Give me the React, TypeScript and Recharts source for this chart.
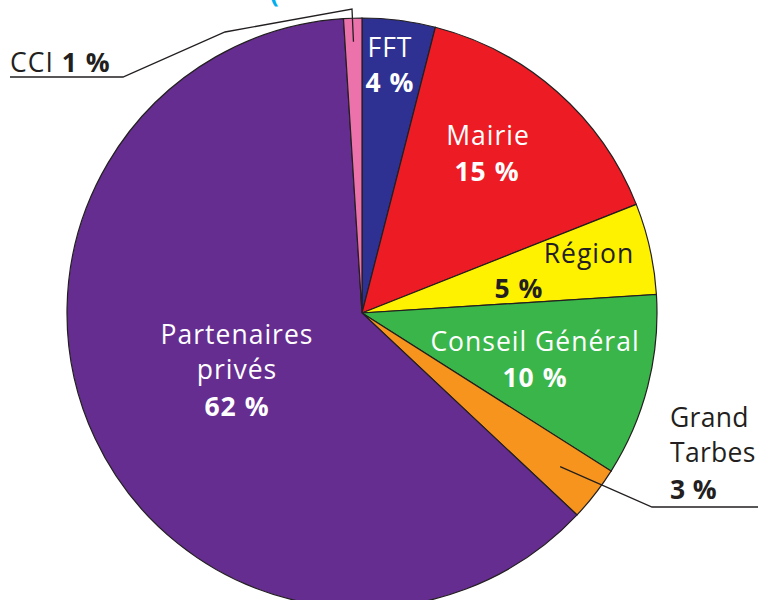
import { PieChart, Pie, Cell } from 'recharts'

const names = ['FFT', 'Mairie', 'Région', 'Conseil Général', 'Grand Tarbes', 'Partenaires privés', 'CCI']
const values = [4, 15, 5, 10, 3, 62, 1]
const colors = ['#2e3192', '#ed1c24', '#fff200', '#39b54a', '#f7941d', '#662d91', '#ec72ac']

const data = names.map((n, i) => ({ name: n, value: values[i] }))

const FONT = '"Open Sans", sans-serif'
const DARK = '#231f20'
const FS = 26.5
const LS = 1

// label text placement, relative to pie centre
const layout: any = {
  FFT: { anchor: 'middle', fill: '#fff', lines: [['FFT', false, 28, -266], ['4 %', true, 28, -231]] },
  Mairie: { anchor: 'middle', fill: '#fff', lines: [['Mairie', false, 126, -178], ['15 %', true, 125, -142]] },
  'Région': { anchor: 'middle', fill: DARK, lines: [['Région', false, 227, -60], ['5 %', true, 157, -25]] },
  'Conseil Général': { anchor: 'middle', fill: '#fff', lines: [['Conseil Général', false, 173, 28], ['10 %', true, 173, 64]] },
  'Grand Tarbes': {
    anchor: 'start', fill: DARK, ls: 0.3,
    lines: [['Grand', false, 308, 104], ['Tarbes', false, 308, 139], ['3 %', true, 308, 176]],
    leader: { r: 0.85, pts: [[290, 194], [396, 194]] }
  },
  'Partenaires privés': {
    anchor: 'middle', fill: '#fff',
    lines: [['Partenaires', false, -125, 21], ['privés', false, -125, 56], ['62 %', true, -125, 93]]
  },
  CCI: {
    anchor: 'start', fill: DARK, lines: [],
    leader: { r: 0.92, pts: [[-10, -304], [-137, -281], [-239, -236], [-352, -236]] }
  }
}

const RAD = Math.PI / 180

function renderLabel(props: any) {
  const { cx, cy, midAngle, outerRadius, name } = props
  const l = layout[name]
  if (!l) return null
  let leader = null
  if (l.leader) {
    const sx = cx + outerRadius * l.leader.r * Math.cos(-midAngle * RAD)
    const sy = cy + outerRadius * l.leader.r * Math.sin(-midAngle * RAD)
    const pts = [[sx, sy], ...l.leader.pts.map((p: number[]) => [cx + p[0], cy + p[1]])]
    leader = (
      <polyline
        points={pts.map((p) => p.join(',')).join(' ')}
        fill="none"
        stroke={DARK}
        strokeWidth={1.3}
      />
    )
  }
  return (
    <g key={name}>
      {leader}
      {l.lines.map((ln: any, i: number) => (
        <text
          key={i}
          x={cx + ln[2]}
          y={cy + ln[3]}
          textAnchor={l.anchor}
          dominantBaseline="central"
          fill={l.fill}
          fontFamily={FONT}
          fontSize={FS}
          letterSpacing={l.ls ?? LS}
          fontWeight={ln[1] ? 700 : 400}
        >
          {ln[0]}
        </text>
      ))}
      {name === 'CCI' && (
        <text
          x={cx - 352}
          y={cy - 251}
          dominantBaseline="central"
          fill={DARK}
          fontFamily={FONT}
          fontSize={FS}
          letterSpacing={LS}
        >
          CCI <tspan fontWeight={700}>1 %</tspan>
        </text>
      )}
    </g>
  )
}

export default function App() {
  return (
    <div style={{ position: 'absolute', left: 0, top: 0, width: 758, height: 600, background: '#fff' }}>
      <PieChart width={758} height={600} margin={{ top: 0, right: 0, bottom: 0, left: 0 }}>
        <text x={270} y={2} fill="#00aeef" fontFamily={FONT} fontSize={26} fontWeight={700}>
          (
        </text>
        <Pie
          data={data}
          dataKey="value"
          nameKey="name"
          cx={362}
          cy={313}
          outerRadius={295}
          startAngle={90}
          endAngle={-270}
          stroke={DARK}
          strokeWidth={1.2}
          label={renderLabel}
          labelLine={false}
          isAnimationActive={false}
        >
          {data.map((d, i) => (
            <Cell key={d.name} fill={colors[i]} />
          ))}
        </Pie>
      </PieChart>
    </div>
  )
}
